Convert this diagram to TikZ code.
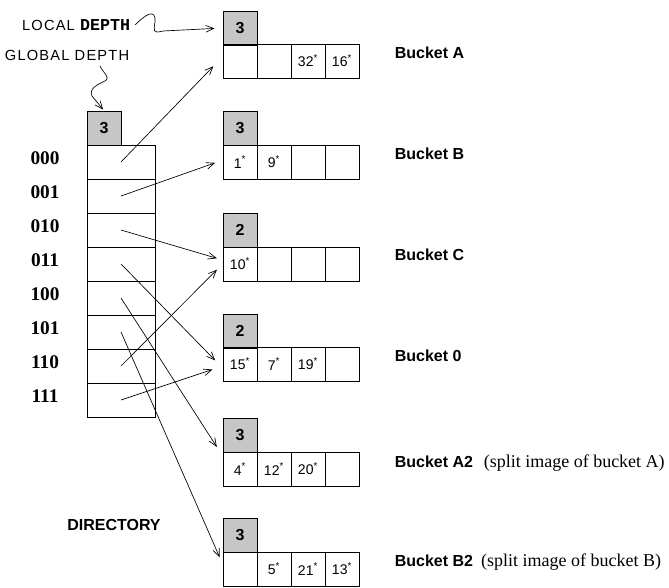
\documentclass[tikz,border=0pt]{standalone}
\usepackage{fontspec}
\setmainfont{Liberation Sans}
\newfontfamily\timesfont{Liberation Serif}
\newfontfamily\courfont{Liberation Mono}
\newfontfamily\spacedfont[LetterSpace=8]{Liberation Sans}
\usetikzlibrary{arrows.meta}

\newcommand{\dat}[1]{#1\textsuperscript{*}}

\tikzset{
  slot/.style={
    draw,
    minimum size=25.5pt,
    inner sep=0pt,
    font=\fontsize{10.5}{12}\selectfont
  },
  depthbox/.style={
    slot,
    fill=gray!45,
    font=\bfseries\fontsize{12}{14}\selectfont
  },
  dirslot/.style={
    draw,
    minimum width=51pt,
    minimum height=25.5pt,
    inner sep=0pt
  },
  rowlabel/.style={
    font=\timesfont\bfseries\fontsize{14.5}{16}\selectfont
  },
  bucketlabel/.style={
    anchor=west,
    font=\bfseries\fontsize{12}{14}\selectfont
  },
  depthlabel/.style={
    anchor=east,
    font=\spacedfont\fontsize{11}{13}\selectfont
  },
  pointer/.style={
    -{Straight Barb[length=6pt,width=5pt]},
    line width=0.5pt
  }
}

\begin{document}
\begin{tikzpicture}[x=0.75pt, y=-0.75pt, line width=0.6pt]
  \useasboundingbox (0,0) rectangle (669,587);

  % directory
  \node[depthbox] (gd) at (104,128) {3};
  \foreach \bits [count=\i from 0] in {000,001,010,011,100,101,110,111} {
    \node[dirslot] (d\i) at (121,{162+34*\i}) {};
    \node[rowlabel] (r\i) at (45,{158+34*\i}) {\bits};
  }
  \node[font=\bfseries\fontsize{12}{14}\selectfont] (dir) at (114,525) {DIRECTORY};

  \node[depthlabel] (lcl) at (135,25)
    {LOCAL {\courfont\bfseries\fontsize{12.5}{14}\selectfont DEPTH}};
  \node[depthlabel] (glb) at (134,55) {GLOBAL DEPTH};
  \coordinate (gs) at (100,66);

  % buckets
  \node[depthbox] (bA-d) at (240,28) {3};
  \foreach \v [count=\i] in {{},{},\dat{32},\dat{16}}
    \node[slot] (bA-\i) at ({206+34*\i},61) {\v};
  \node[bucketlabel] (bA-l) at (390,53) {Bucket A};

  \node[depthbox] (bB-d) at (240,128) {3};
  \foreach \v [count=\i] in {\dat{1},\dat{9},{},{}}
    \node[slot] (bB-\i) at ({206+34*\i},162) {\v};
  \node[bucketlabel] (bB-l) at (390,154) {Bucket B};

  \node[depthbox] (bC-d) at (240,230) {2};
  \foreach \v [count=\i] in {\dat{10},{},{},{}}
    \node[slot] (bC-\i) at ({206+34*\i},264) {\v};
  \node[bucketlabel] (bC-l) at (390,255) {Bucket C};

  \node[depthbox] (b0-d) at (240,331) {2};
  \foreach \v [count=\i] in {\dat{15},\dat{7},\dat{19},{}}
    \node[slot] (b0-\i) at ({206+34*\i},364) {\v};
  \node[bucketlabel] (b0-l) at (390,356) {Bucket 0};

  \node[depthbox] (bA2-d) at (240,435) {3};
  \foreach \v [count=\i] in {\dat{4},\dat{12},\dat{20},{}}
    \node[slot] (bA2-\i) at ({206+34*\i},469) {\v};
  \node[bucketlabel] (bA2-l) at (390,463)
    {Bucket A2\hspace{8pt}{\timesfont\mdseries\fontsize{13.5}{15}\selectfont (split image of bucket A)}};

  \node[depthbox] (bB2-d) at (240,535) {3};
  \foreach \v [count=\i] in {{},\dat{5},\dat{21},\dat{13}}
    \node[slot] (bB2-\i) at ({206+34*\i},569) {\v};
  \node[bucketlabel] (bB2-l) at (390,562)
    {Bucket B2\hspace{6pt}{\timesfont\mdseries\fontsize{13.5}{15}\selectfont (split image of bucket B)}};

  % depth arrows
  \draw[pointer, shorten >=6pt] (lcl.east) .. controls (146,14) and (156,8) .. (155,22)
    .. controls (154,30) and (152,34) .. (163,31) -- (bA-d.west);
  \draw[pointer, shorten >=1pt] (gs) .. controls (103,73) and (111,77) .. (105,81)
    .. controls (96,85) and (89,89) .. (92,96) -- (gd.north);

  % directory pointers
  \draw[pointer, shorten >=10pt] (d0.center) -- (bA-1.166);
  \draw[pointer, shorten >=6pt] (d1.center) -- (bB-1.174);
  \draw[pointer, shorten >=4.5pt] (d2.center) -- (bC-1.167);
  \draw[pointer, shorten >=8pt] (d3.center) -- (b0-1.193);
  \draw[pointer, shorten >=8pt] (d4.center) -- (bA2-1.143);
  \draw[pointer, shorten >=5.5pt] (d5.center) -- (bB2-1.164);
  \draw[pointer, shorten >=6pt] (d6.center) -- (bC-1.180);
  \draw[pointer, shorten >=8pt] (d7.center) -- (b0-1.187);
\end{tikzpicture}
\end{document}
